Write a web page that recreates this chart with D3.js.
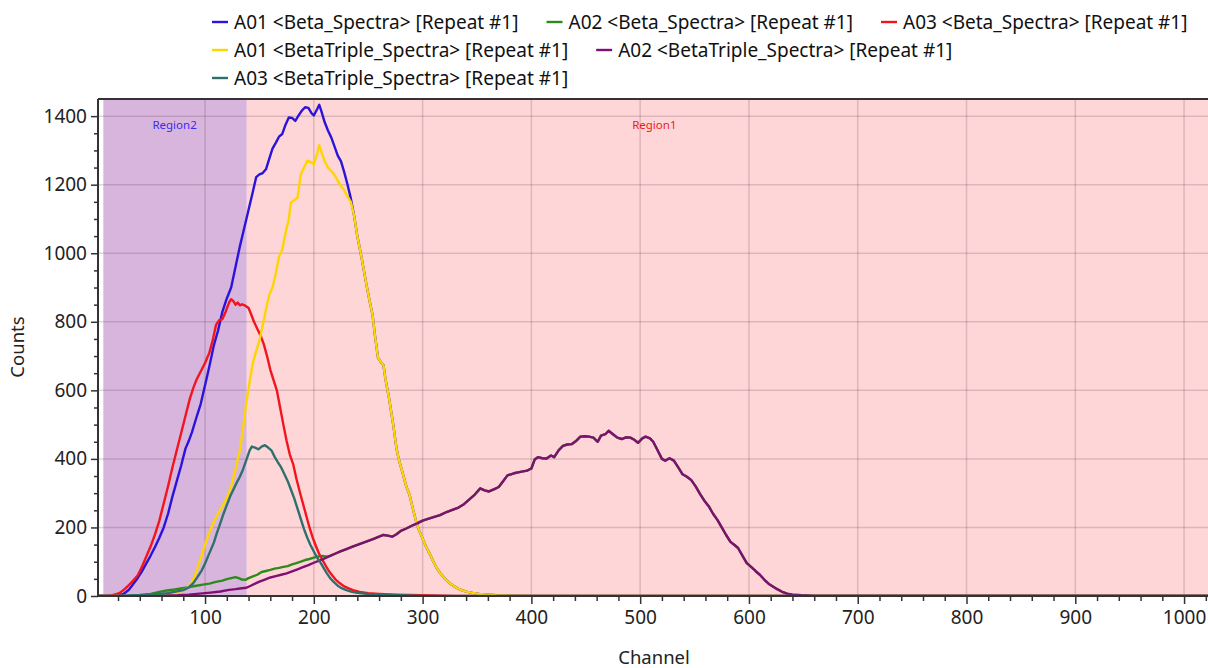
<!DOCTYPE html>
<html>
<head>
<meta charset="utf-8">
<script src="https://cdn.jsdelivr.net/npm/d3@7"></script>
<style>
  html, body { margin: 0; padding: 0; background: #ffffff; }
  svg { display: block; font-family: "Noto Sans", "Open Sans", sans-serif; }
</style>
</head>
<body>
<svg id="chart" width="1208" height="668"></svg>
<script>
// ---------------- DATA ----------------
const seriesNames = [
  "A01 <Beta_Spectra> [Repeat #1]",
  "A02 <Beta_Spectra> [Repeat #1]",
  "A03 <Beta_Spectra> [Repeat #1]",
  "A01 <BetaTriple_Spectra> [Repeat #1]",
  "A02 <BetaTriple_Spectra> [Repeat #1]",
  "A03 <BetaTriple_Spectra> [Repeat #1]"
];
const seriesColors = ["#2a14dc", "#2f8a1c", "#f2141e", "#ffd500", "#7f1072", "#2f706c"];

const xTicks = [100, 200, 300, 400, 500, 600, 700, 800, 900, 1000];
const yTicks = [0, 200, 400, 600, 800, 1000, 1200, 1400];

// regions: [start channel, end channel]
const regionNames = ["Region2", "Region1"];
const regionRanges = [[6.5, 138.4], [138.4, 1024]];
const regionLabelChannel = [72, 513];

// A01 <Beta_Spectra>
const a01Beta = [[1,0],[15,0],[20,2],[25,6],[30,18],[34,35],[38,52],[42,72],[46,95],[50,118],[54,143],[58,170],[62,200],[66,240],[70,290],[74,335],[78,380],[82,430],[85,452],[88,478],[92,520],[96,560],[100,615],[104,670],[108,730],[112,775],[116,830],[120,868],[124,900],[128,960],[132,1020],[135,1060],[138,1100],[141,1140],[144,1180],[147,1222],[150,1230],[153,1234],[156,1245],[159,1275],[162,1305],[165,1322],[168,1340],[171,1348],[174,1375],[177,1396],[180,1395],[183,1386],[186,1402],[189,1416],[192,1426],[195,1424],[198,1408],[200,1402],[203,1420],[205,1433],[207,1414],[210,1382],[213,1358],[216,1338],[219,1312],[222,1285],[225,1268],[228,1236],[231,1200],[234,1160],[237,1110],[240,1050],[244,985],[248,915],[251,865],[254,820],[256,765],[259,695],[262,680],[264,674],[266,630],[269,580],[273,500],[276,430],[278,400],[282,355],[285,320],[288,295],[291,255],[294,218],[297,190],[300,168],[303,145],[307,120],[310,100],[313,81],[316,68],[319,56],[322,46],[325,37],[329,28],[333,21],[337,16],[341,12],[346,9],[352,6],[360,4],[368,2],[380,1],[400,0],[1024,0]];

// A02 <Beta_Spectra>
const a02Beta = [[1,0],[20,0],[30,1],[40,3],[50,6],[58,12],[65,16],[72,19],[78,22],[85,26],[92,30],[98,33],[104,36],[110,41],[116,45],[120,49],[124,52],[128,55],[131,52],[134,48],[137,47],[140,52],[144,57],[148,62],[152,70],[156,73],[160,76],[164,80],[168,82],[172,85],[176,87],[180,92],[184,96],[188,100],[192,105],[196,108],[200,112],[204,115],[208,117],[212,115],[215,117],[220,124],[225,131],[230,137],[235,143],[240,149],[245,155],[250,161],[255,167],[260,173],[264,178],[268,176],[272,173],[276,180],[280,190],[285,197],[290,205],[295,212],[300,220],[305,225],[310,230],[316,236],[322,245],[328,252],[333,258],[338,268],[343,282],[348,296],[353,314],[357,308],[361,305],[366,312],[370,318],[374,335],[378,352],[384,358],[390,362],[396,366],[400,372],[403,398],[406,405],[410,402],[414,401],[418,410],[421,405],[425,425],[429,438],[433,442],[437,443],[441,452],[445,465],[449,466],[453,465],[457,462],[461,450],[464,468],[468,472],[471,482],[475,472],[479,462],[483,458],[487,463],[491,462],[495,455],[498,447],[502,460],[505,465],[509,460],[512,450],[516,425],[520,400],[523,395],[527,402],[531,395],[535,375],[539,355],[543,348],[547,338],[551,320],[555,298],[559,278],[563,262],[567,240],[571,222],[575,200],[579,178],[583,158],[587,148],[590,140],[594,118],[598,96],[602,85],[606,73],[610,62],[614,48],[618,36],[622,28],[626,20],[630,13],[635,7],[640,4],[648,2],[660,0],[1024,0]];

// A03 <Beta_Spectra>
const a03Beta = [[1,0],[10,0],[14,2],[18,5],[22,10],[26,20],[30,32],[34,45],[38,60],[42,85],[46,115],[50,145],[54,180],[58,220],[62,270],[66,320],[70,375],[74,425],[78,475],[82,525],[86,575],[89,605],[92,630],[96,655],[100,680],[104,710],[107,745],[110,790],[113,805],[116,808],[119,830],[122,855],[124,866],[126,860],[128,850],[130,856],[132,848],[134,851],[137,847],[140,840],[142,825],[145,800],[148,780],[151,760],[154,735],[157,700],[160,660],[163,630],[166,600],[169,550],[172,500],[175,452],[178,412],[181,385],[184,342],[187,305],[190,270],[193,235],[196,200],[199,170],[202,145],[205,122],[208,105],[211,88],[214,72],[217,60],[220,48],[224,37],[228,28],[232,22],[236,17],[242,12],[250,8],[260,6],[275,4],[300,2],[330,0],[1024,0]];

// A01 <BetaTriple_Spectra>
const a01Triple = [[1,0],[50,0],[60,2],[66,4],[72,8],[78,14],[84,25],[88,40],[92,70],[96,110],[100,150],[104,185],[108,215],[112,240],[116,262],[120,285],[124,320],[128,370],[132,425],[135,490],[138,565],[141,625],[144,680],[147,715],[150,745],[153,790],[156,835],[159,878],[162,900],[165,940],[168,990],[171,1010],[174,1060],[177,1100],[179,1148],[182,1155],[185,1162],[188,1230],[191,1250],[194,1270],[197,1266],[200,1260],[203,1290],[205,1315],[207,1295],[210,1268],[213,1250],[216,1240],[219,1228],[222,1212],[225,1195],[228,1184],[231,1165],[234,1150],[237,1110],[240,1050],[244,985],[248,915],[251,865],[254,820],[256,765],[259,695],[262,680],[264,674],[266,630],[269,580],[273,500],[276,430],[278,400],[282,355],[285,320],[288,295],[291,255],[294,218],[297,190],[300,168],[303,145],[307,120],[310,100],[313,81],[316,68],[319,56],[322,46],[325,37],[329,28],[333,21],[337,16],[341,12],[346,9],[352,6],[360,4],[368,2],[380,1],[400,0],[1024,0]];

// A02 <BetaTriple_Spectra>
const a02Triple = [[1,0],[40,0],[60,1],[75,2],[85,4],[95,7],[105,10],[114,13],[122,18],[128,20],[132,22],[138,24],[142,30],[146,36],[150,42],[155,48],[160,54],[165,58],[170,62],[175,66],[180,72],[185,78],[190,84],[195,90],[200,97],[205,103],[210,110],[215,117],[220,124],[225,131],[230,137],[235,143],[240,149],[245,155],[250,161],[255,167],[260,173],[264,178],[268,176],[272,173],[276,180],[280,190],[285,197],[290,205],[295,212],[300,220],[305,225],[310,230],[316,236],[322,245],[328,252],[333,258],[338,268],[343,282],[348,296],[353,314],[357,308],[361,305],[366,312],[370,318],[374,335],[378,352],[384,358],[390,362],[396,366],[400,372],[403,398],[406,405],[410,402],[414,401],[418,410],[421,405],[425,425],[429,438],[433,442],[437,443],[441,452],[445,465],[449,466],[453,465],[457,462],[461,450],[464,468],[468,472],[471,482],[475,472],[479,462],[483,458],[487,463],[491,462],[495,455],[498,447],[502,460],[505,465],[509,460],[512,450],[516,425],[520,400],[523,395],[527,402],[531,395],[535,375],[539,355],[543,348],[547,338],[551,320],[555,298],[559,278],[563,262],[567,240],[571,222],[575,200],[579,178],[583,158],[587,148],[590,140],[594,118],[598,96],[602,85],[606,73],[610,62],[614,48],[618,36],[622,28],[626,20],[630,13],[635,7],[640,4],[648,2],[660,0],[1024,0]];

// A03 <BetaTriple_Spectra>
const a03Triple = [[1,0],[25,0],[35,2],[45,3],[55,5],[65,8],[72,12],[80,17],[85,25],[89,37],[93,55],[97,75],[100,95],[104,125],[108,155],[111,185],[114,212],[117,240],[120,265],[123,290],[126,310],[129,330],[132,348],[135,370],[138,397],[141,425],[143,436],[146,433],[149,428],[152,436],[155,440],[158,433],[161,425],[164,406],[167,390],[170,375],[173,355],[176,335],[179,310],[182,285],[185,255],[188,225],[191,195],[194,170],[197,148],[200,130],[203,112],[206,98],[209,82],[212,66],[215,52],[218,42],[222,30],[226,22],[230,17],[235,12],[240,9],[250,6],[260,4],[280,2],[300,0],[1024,0]];

const seriesData = [a01Beta, a02Beta, a03Beta, a01Triple, a02Triple, a03Triple];

// ---------------- LAYOUT ----------------
const plot = { left: 98, right: 1208, top: 99, bottom: 596 };
const svg = d3.select("#chart");

const x = d3.scaleLinear().domain([1.6, 1022]).range([plot.left, plot.right]);
const y = d3.scaleLinear().domain([0, 1450]).range([plot.bottom, plot.top]);

svg.append("defs").append("clipPath").attr("id", "clip")
  .append("rect").attr("x", plot.left).attr("y", plot.top)
  .attr("width", plot.right - plot.left).attr("height", plot.bottom - plot.top);

svg.append("rect").attr("x", plot.left).attr("y", plot.top)
  .attr("width", plot.right - plot.left).attr("height", plot.bottom - plot.top)
  .attr("fill", "#ffffff");

const regionFill = ["#d8b5dc", "#ffd6d7"];
const regionText = ["#3a2cf0", "#f01a1a"];
const regG = svg.append("g").attr("clip-path", "url(#clip)");
regG.selectAll("rect.region").data(regionRanges).join("rect")
  .attr("class", "region")
  .attr("x", d => x(d[0]))
  .attr("y", plot.top)
  .attr("width", d => Math.min(x(d[1]), plot.right) - x(d[0]) + (d[1] > 1000 ? 2 : 0))
  .attr("height", plot.bottom - plot.top)
  .attr("fill", (d, i) => regionFill[i]);

const gridG = svg.append("g").attr("clip-path", "url(#clip)");
gridG.selectAll("line.vg").data(xTicks).join("line")
  .attr("x1", d => x(d)).attr("x2", d => x(d))
  .attr("y1", plot.top).attr("y2", plot.bottom)
  .attr("stroke", "rgba(90,50,70,0.2)").attr("stroke-width", 1.5);
gridG.selectAll("line.hg").data(yTicks.filter(v => v > 0)).join("line")
  .attr("x1", plot.left).attr("x2", plot.right)
  .attr("y1", d => y(d)).attr("y2", d => y(d))
  .attr("stroke", "rgba(90,50,70,0.2)").attr("stroke-width", 1.5);

svg.selectAll("text.rlabel").data(regionNames).join("text")
  .attr("class", "rlabel")
  .attr("x", (d, i) => x(regionLabelChannel[i]))
  .attr("y", 129)
  .attr("text-anchor", "middle")
  .attr("font-size", 11.5)
  .attr("fill", (d, i) => regionText[i])
  .text(d => d);

const line = d3.line().x(d => x(d[0])).y(d => y(d[1]));
const linesG = svg.append("g").attr("clip-path", "url(#clip)");
linesG.selectAll("path.series").data(seriesData).join("path")
  .attr("class", "series")
  .attr("d", line)
  .attr("fill", "none")
  .attr("stroke", (d, i) => seriesColors[i])
  .attr("stroke-width", 2.4)
  .attr("stroke-linejoin", "round");

const axisColor = "#333333";
const xMinor = d3.range(20, 1021, 20).filter(v => v % 100 !== 0);
const yMinor = d3.range(50, 1450, 50).filter(v => v % 200 !== 0);

const xAxisG = svg.append("g").attr("transform", `translate(0,${plot.bottom})`)
  .call(d3.axisBottom(x).tickValues(xTicks).tickSize(8).tickPadding(7).tickFormat(d3.format("d")));
const xMinorG = svg.append("g").attr("transform", `translate(0,${plot.bottom})`)
  .call(d3.axisBottom(x).tickValues(xMinor).tickSize(5).tickFormat(""));
const yAxisG = svg.append("g").attr("transform", `translate(${plot.left},0)`)
  .call(d3.axisLeft(y).tickValues(yTicks).tickSize(7).tickPadding(4).tickFormat(d3.format("d")));
const yMinorG = svg.append("g").attr("transform", `translate(${plot.left},0)`)
  .call(d3.axisLeft(y).tickValues(yMinor).tickSize(4).tickFormat(""));

[xAxisG, xMinorG, yAxisG, yMinorG].forEach(g => {
  g.selectAll("path.domain").attr("stroke", axisColor).attr("stroke-width", 2);
  g.selectAll(".tick line").attr("stroke", axisColor).attr("stroke-width", 1.5);
  g.selectAll(".tick text").attr("fill", "#222").attr("font-size", 19)
    .attr("font-family", "'Noto Sans', 'Open Sans', sans-serif");
});
xMinorG.select("path.domain").remove();
yMinorG.select("path.domain").remove();
xAxisG.select("path.domain").attr("d", `M${plot.left},0H${plot.right}`);
yAxisG.select("path.domain").attr("d", `M0,${plot.bottom}V${plot.top}`);

svg.append("line").attr("x1", plot.left).attr("x2", plot.right)
  .attr("y1", plot.top).attr("y2", plot.top)
  .attr("stroke", axisColor).attr("stroke-width", 2);

svg.append("text").attr("x", 654).attr("y", 664).attr("text-anchor", "middle")
  .attr("font-size", 18.5).attr("fill", "#222").text("Channel");
svg.append("text").attr("transform", "translate(24,347) rotate(-90)")
  .attr("text-anchor", "middle").attr("font-size", 18.5).attr("fill", "#222").text("Counts");

const legendRows = [[0, 1, 2], [3, 4], [5]];
const legendG = svg.append("g");
legendRows.forEach((row, r) => {
  let cx = 212;
  const cy = 22 + r * 28;
  row.forEach(i => {
    legendG.append("line").attr("x1", cx).attr("x2", cx + 16)
      .attr("y1", cy).attr("y2", cy)
      .attr("stroke", seriesColors[i]).attr("stroke-width", 2.4);
    const t = legendG.append("text").attr("x", cx + 22).attr("y", cy + 6.5)
      .attr("font-size", 19).attr("fill", "#111").text(seriesNames[i]);
    cx += 22 + t.node().getComputedTextLength() + 28;
  });
});
</script>
</body>
</html>
